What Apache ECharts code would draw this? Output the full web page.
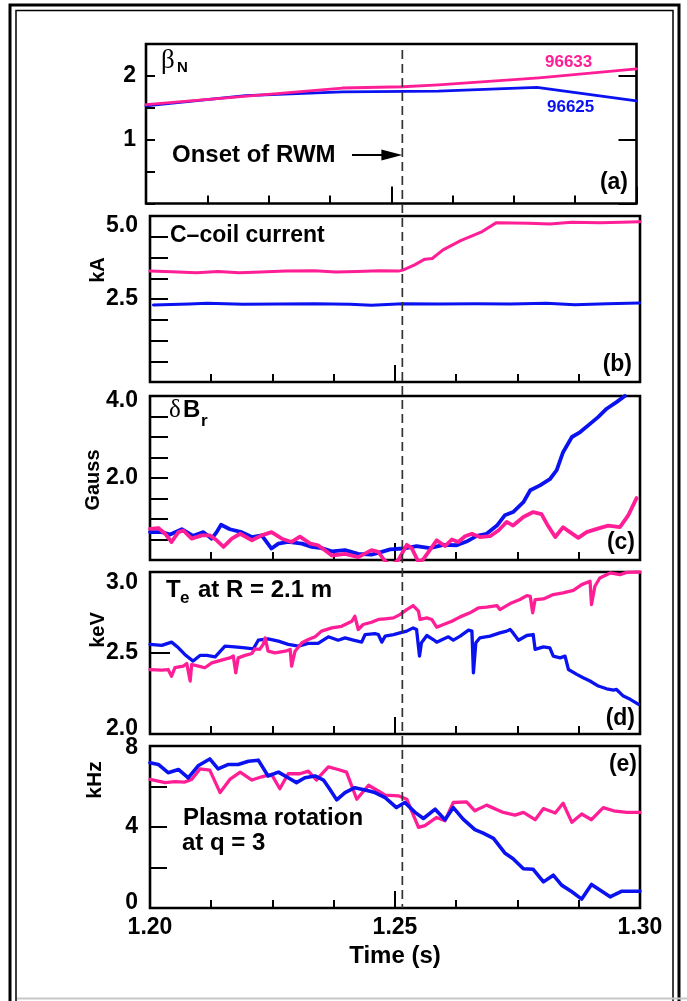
<!DOCTYPE html>
<html><head><meta charset="utf-8">
<script src="https://cdn.jsdelivr.net/npm/echarts@6/dist/echarts.min.js"></script>
<style>html,body{margin:0;padding:0;background:#fff;}#c{width:687px;height:1001px;}</style>
</head><body><div id="c"></div>
<script>
// ---------------- data ----------------
const onsetTime = 1.2515;
const xTickLabels = ['1.20', '1.25', '1.30'];

// (a) beta_N
const aPinkT = [1.2, 1.24, 1.2524, 1.2596, 1.2801, 1.3];
const aPinkV = [1.55, 1.81, 1.83, 1.86, 1.97, 2.11];
const aBlueT = [1.2, 1.2203, 1.24, 1.2596, 1.2797, 1.3];
const aBlueV = [1.53, 1.69, 1.75, 1.76, 1.82, 1.61];

// (b) C-coil current (kA)
const bPinkT = [1.2000,1.2044,1.2095,1.2139,1.2182,1.2226,1.2277,1.2335,1.2379,1.2423,1.2467,1.2507,1.2516,1.2539,1.2561,1.2576,1.2598,1.2634,1.2678,1.2707,1.2773,1.2816,1.2860,1.2918,1.2962,1.3000];
const bPinkV = [3.34,3.32,3.29,3.33,3.29,3.31,3.34,3.35,3.31,3.33,3.35,3.34,3.37,3.52,3.70,3.72,3.98,4.26,4.53,4.80,4.78,4.76,4.81,4.80,4.81,4.83];
const bBlueT = [1.2007,1.2080,1.2117,1.2190,1.2262,1.2335,1.2408,1.2452,1.2516,1.2590,1.2663,1.2736,1.2809,1.2867,1.2933,1.2999];
const bBlueV = [2.32,2.35,2.37,2.34,2.35,2.36,2.34,2.31,2.36,2.35,2.36,2.35,2.37,2.33,2.36,2.38];

// (c) delta B_r (Gauss)
const cBlueT = [1.2000,1.2024,1.2041,1.2065,1.2088,1.2109,1.2126,1.2136,1.2145,1.2163,1.2187,1.2208,1.2228,1.2248,1.2262,1.2282,1.2310,1.2330,1.2350,1.2371,1.2398,1.2425,1.2452,1.2473,1.2490,1.2517,1.2544,1.2571,1.2599,1.2626,1.2646,1.2667,1.2687,1.2708,1.2724,1.2741,1.2762,1.2776,1.2796,1.2816,1.2830,1.2843,1.2861,1.2878,1.2898,1.2915,1.2932,1.2952,1.2969];
const cBlueV = [0.68,0.68,0.62,0.75,0.59,0.68,0.52,0.68,0.86,0.75,0.68,0.56,0.60,0.28,0.40,0.44,0.40,0.32,0.29,0.21,0.24,0.15,0.13,0.20,0.26,0.28,0.34,0.29,0.37,0.36,0.45,0.59,0.64,0.84,1.09,1.17,1.41,1.70,1.82,1.97,2.19,2.63,3.00,3.12,3.32,3.49,3.69,3.85,4.00];
const cPinkT = [1.2000,1.2017,1.2031,1.2044,1.2058,1.2068,1.2085,1.2106,1.2122,1.2136,1.2150,1.2167,1.2184,1.2208,1.2228,1.2248,1.2269,1.2289,1.2306,1.2327,1.2343,1.2361,1.2371,1.2398,1.2425,1.2452,1.2466,1.2476,1.2490,1.2507,1.2524,1.2534,1.2548,1.2558,1.2585,1.2602,1.2616,1.2629,1.2643,1.2657,1.2673,1.2694,1.2711,1.2728,1.2741,1.2762,1.2782,1.2799,1.2810,1.2827,1.2843,1.2857,1.2874,1.2891,1.2912,1.2935,1.2959,1.2976,1.2993];
const cPinkV = [0.76,0.78,0.64,0.44,0.68,0.72,0.52,0.60,0.60,0.48,0.32,0.52,0.64,0.48,0.60,0.68,0.52,0.44,0.57,0.40,0.36,0.20,0.11,0.15,0.07,0.24,0.20,0.03,-0.15,0.00,0.37,0.29,-0.05,0.02,0.48,0.34,0.50,0.44,0.58,0.64,0.56,0.58,0.72,0.93,0.84,1.05,1.17,1.12,0.88,0.56,0.80,0.68,0.54,0.68,0.76,0.84,0.80,1.09,1.51];

// (d) Te at R = 2.1 m (keV)
const dBlueT = [1.2000,1.2024,1.2044,1.2058,1.2071,1.2088,1.2102,1.2116,1.2133,1.2153,1.2173,1.2194,1.2211,1.2221,1.2241,1.2262,1.2282,1.2303,1.2323,1.2343,1.2364,1.2384,1.2398,1.2415,1.2432,1.2439,1.2459,1.2466,1.2473,1.2480,1.2497,1.2510,1.2524,1.2537,1.2544,1.2550,1.2554,1.2565,1.2578,1.2585,1.2599,1.2609,1.2619,1.2633,1.2650,1.2657,1.2660,1.2665,1.2673,1.2694,1.2714,1.2728,1.2735,1.2741,1.2752,1.2769,1.2782,1.2786,1.2803,1.2816,1.2823,1.2837,1.2847,1.2854,1.2871,1.2884,1.2898,1.2915,1.2932,1.2946,1.2952,1.2966,1.2980,1.2997];
const dBlueV = [2.553,2.547,2.567,2.532,2.491,2.450,2.485,2.485,2.476,2.542,2.538,2.532,2.526,2.579,2.587,2.573,2.553,2.542,2.559,2.559,2.600,2.579,2.593,2.579,2.567,2.614,2.620,2.614,2.567,2.604,2.614,2.624,2.635,2.655,2.645,2.481,2.563,2.608,2.583,2.567,2.587,2.600,2.579,2.604,2.641,2.635,2.378,2.563,2.593,2.604,2.624,2.635,2.645,2.624,2.579,2.608,2.614,2.522,2.538,2.532,2.481,2.470,2.481,2.398,2.368,2.347,2.327,2.296,2.279,2.271,2.275,2.234,2.214,2.183];
const dPinkT = [1.2000,1.2024,1.2037,1.2044,1.2051,1.2068,1.2075,1.2082,1.2085,1.2099,1.2112,1.2126,1.2146,1.2163,1.2170,1.2175,1.2180,1.2194,1.2208,1.2214,1.2224,1.2231,1.2235,1.2241,1.2255,1.2276,1.2286,1.2289,1.2296,1.2310,1.2323,1.2337,1.2350,1.2371,1.2391,1.2412,1.2418,1.2425,1.2435,1.2452,1.2466,1.2480,1.2497,1.2510,1.2524,1.2537,1.2548,1.2551,1.2565,1.2575,1.2585,1.2599,1.2616,1.2633,1.2653,1.2670,1.2687,1.2708,1.2714,1.2735,1.2755,1.2769,1.2776,1.2781,1.2786,1.2803,1.2823,1.2843,1.2864,1.2881,1.2898,1.2901,1.2908,1.2918,1.2939,1.2959,1.2973,1.2990,1.3000];
const dPinkV = [2.398,2.394,2.398,2.357,2.409,2.419,2.435,2.327,2.429,2.419,2.409,2.439,2.456,2.470,2.481,2.378,2.470,2.485,2.497,2.526,2.522,2.553,2.593,2.511,2.501,2.511,2.522,2.419,2.511,2.563,2.583,2.600,2.635,2.655,2.665,2.696,2.727,2.645,2.676,2.690,2.707,2.711,2.717,2.737,2.768,2.793,2.758,2.707,2.717,2.707,2.659,2.676,2.696,2.723,2.748,2.778,2.783,2.793,2.768,2.805,2.830,2.854,2.850,2.748,2.830,2.834,2.861,2.871,2.887,2.922,2.943,2.799,2.912,2.963,2.994,2.984,2.998,3.0,3.0];

// (e) plasma rotation at q = 3 (kHz)
const eBlueT = [1.2000,1.2017,1.2037,1.2058,1.2078,1.2099,1.2122,1.2139,1.2160,1.2180,1.2201,1.2221,1.2241,1.2262,1.2282,1.2299,1.2316,1.2337,1.2354,1.2367,1.2381,1.2398,1.2418,1.2439,1.2459,1.2480,1.2503,1.2520,1.2541,1.2558,1.2582,1.2602,1.2619,1.2639,1.2663,1.2680,1.2701,1.2724,1.2741,1.2762,1.2782,1.2803,1.2823,1.2840,1.2861,1.2881,1.2901,1.2922,1.2939,1.2963,1.3000];
const eBlueV = [7.17,7.09,6.68,6.84,6.43,7.04,7.36,6.87,7.09,7.09,7.25,7.30,6.52,6.71,6.43,6.19,6.43,6.52,6.32,5.86,5.34,5.70,5.94,5.83,5.70,5.45,4.96,5.21,4.72,4.42,4.88,4.36,4.96,4.39,3.87,3.70,3.44,2.72,2.43,1.94,1.91,1.29,1.62,1.13,0.80,0.44,1.16,0.83,0.55,0.83,0.83];
const ePinkT = [1.2000,1.2031,1.2051,1.2071,1.2085,1.2102,1.2122,1.2143,1.2163,1.2184,1.2208,1.2228,1.2248,1.2265,1.2282,1.2306,1.2323,1.2340,1.2347,1.2364,1.2384,1.2401,1.2422,1.2446,1.2466,1.2480,1.2507,1.2524,1.2548,1.2561,1.2585,1.2602,1.2619,1.2646,1.2663,1.2687,1.2721,1.2745,1.2762,1.2786,1.2803,1.2827,1.2843,1.2861,1.2881,1.2901,1.2925,1.2946,1.2973,1.3000];
const ePinkV = [6.35,6.19,6.24,6.22,6.35,6.87,6.81,5.70,6.35,6.71,6.32,6.48,6.60,5.89,6.63,6.63,6.76,6.32,6.52,6.97,6.84,6.71,5.37,6.06,5.78,5.57,5.54,5.37,3.98,4.07,4.47,4.31,5.21,5.24,4.80,5.08,4.72,4.59,4.72,4.36,4.91,4.69,5.17,4.23,4.64,4.36,4.96,4.80,4.72,4.72];

// ---------------- chart ----------------
const FONT = '"Liberation Sans", Arial, Helvetica, sans-serif';
const SERIF = '"Liberation Serif", "DejaVu Serif", serif';
const PINK = '#ff1e96', BLUE = '#0a12f0';
const chart = echarts.init(document.getElementById('c'), null, {renderer: 'canvas', width: 687, height: 1001});

const grids = [
  {left: 146, top: 44, width: 490.5, height: 159.5},
  {left: 150, top: 216, width: 490, height: 166},
  {left: 150, top: 396, width: 490, height: 164},
  {left: 150, top: 572, width: 490, height: 162},
  {left: 150, top: 746, width: 490, height: 162}
].map(g => Object.assign({show: true, borderColor: '#000', borderWidth: 2.6, backgroundColor: 'transparent', containLabel: false}, g));

const lblBase = {fontFamily: FONT, fontWeight: 'bold', fontSize: 23, color: '#000'};
function shiftRich(px) {
  return {
    dn: Object.assign({}, lblBase, {padding: [2 * px, 0, 0, 0]}),
    up: Object.assign({}, lblBase, {padding: [0, 0, 2 * px, 0]})
  };
}
const near = (a, b) => Math.abs(a - b) < 1e-6;

const xAxes = grids.map((g, i) => ({
  gridIndex: i, type: 'value', min: 1.2, max: 1.3, interval: 0.05,
  axisLine: {show: false},
  axisTick: {show: true, inside: true, length: 17, lineStyle: {color: '#000', width: 2}},
  minorTick: {show: true, splitNumber: 4, length: 8, lineStyle: {color: '#000', width: 2}},
  splitLine: {show: false}, minorSplitLine: {show: false},
  axisLabel: i === 4 ? Object.assign({}, lblBase, {
    margin: 8, showMinLabel: true, showMaxLabel: true,
    formatter: v => {
      const k = Math.round((v - 1.2) / 0.05);
      return xTickLabels[k] !== undefined ? xTickLabels[k] : '';
    }
  }) : {show: false},
  name: i === 4 ? 'Time (s)' : '', nameLocation: 'middle', nameGap: 36,
  nameTextStyle: {fontFamily: FONT, fontWeight: 'bold', fontSize: 24, color: '#000'}
}));

function yAx(grid, min, max, interval, tickLen, fmt, rich, margin) {
  return {
    gridIndex: grid, type: 'value', min, max, interval,
    axisLine: {show: false},
    axisTick: {show: true, inside: true, length: tickLen, lineStyle: {color: '#000', width: 2}},
    splitLine: {show: false},
    axisLabel: fmt ? Object.assign({}, lblBase, {margin: margin || 12, showMinLabel: true, showMaxLabel: true, formatter: fmt, rich: rich || {}}) : {show: false}
  };
}
const yAxes = [
  yAx(0, 0, 2.5, 0.5, 9, v => (near(v, 1) ? '1' : near(v, 2) ? '2' : ''), null, 10),
  yAx(0, 0, 2.5, 1, 18, null),
  yAx(1, 0, 5, 0.625, 18, v => (near(v, 2.5) ? '2.5' : near(v, 5) ? '{dn|5.0}' : ''), shiftRich(10)),
  yAx(2, 0, 4, 0.5, 18, v => (near(v, 2) ? '2.0' : near(v, 4) ? '{dn|4.0}' : ''), shiftRich(5)),
  yAx(3, 2, 3, 0.5, 20, v => (near(v, 2.5) ? '2.5' : near(v, 3) ? '{dn|3.0}' : near(v, 2) ? '{up|2.0}' : ''), Object.assign(shiftRich(11), {up: Object.assign({}, lblBase, {padding: [0, 0, 10, 0]})})),
  yAx(4, 0, 8, 2, 17, v => (near(v, 4) ? '4' : near(v, 8) ? '{dn|8}' : near(v, 0) ? '{up|0}' : ''), Object.assign(shiftRich(2), {up: Object.assign({}, lblBase, {padding: [0, 0, 10, 0]})}))
];

const yIdx = [0, 2, 3, 4, 5];
function pairs(T, V) { return T.map((t, i) => [t, V[i]]); }
function line(panel, T, V, color, width, z) {
  return {
    type: 'line', xAxisIndex: panel, yAxisIndex: yIdx[panel], data: pairs(T, V),
    showSymbol: false, symbol: 'none', clip: true, z: z, animation: false,
    lineStyle: {color: color, width: width, join: 'round', cap: 'round'}, itemStyle: {color: color}
  };
}

const series = [
  line(0, aBlueT, aBlueV, BLUE, 2.8, 2),
  line(0, aPinkT, aPinkV, PINK, 2.8, 3),
  line(1, bBlueT, bBlueV, BLUE, 3.0, 2),
  line(1, bPinkT, bPinkV, PINK, 3.0, 3),
  line(2, cBlueT, cBlueV, BLUE, 3.8, 2),
  line(2, cPinkT, cPinkV, PINK, 3.8, 3),
  line(3, dBlueT, dBlueV, BLUE, 3.3, 2),
  line(3, dPinkT, dPinkV, PINK, 3.3, 3),
  line(4, ePinkT, ePinkV, PINK, 3.3, 2),
  line(4, eBlueT, eBlueV, BLUE, 3.6, 3)
];

chart.setOption({
  animation: false,
  backgroundColor: '#fff',
  textStyle: {fontFamily: FONT},
  grid: grids, xAxis: xAxes, yAxis: yAxes, series: series
});

// ---------------- annotations ----------------
const xOn = chart.convertToPixel({xAxisIndex: 4}, onsetTime);
function txt(x, y, text, size, opts) {
  return {type: 'text', x: x, y: y, z: 50, silent: true,
    style: Object.assign({text: text, fontSize: size, fontFamily: FONT, fontWeight: 'bold', fill: '#000', align: 'left', verticalAlign: 'middle'}, opts || {})};
}
function vtxt(x, y, text, size) {
  return {type: 'text', x: x, y: y, rotation: Math.PI / 2, z: 50, silent: true,
    style: {text: text, fontSize: size, fontFamily: FONT, fontWeight: 'bold', fill: '#000', align: 'center', verticalAlign: 'middle'}};
}
const graphic = [
  // frame
  {type: 'rect', z: 60, silent: true, shape: {x: 10, y: 5, width: 669, height: 1100}, style: {fill: 'none', stroke: '#000', lineWidth: 3}},
  {type: 'rect', z: 60, silent: true, shape: {x: 16, y: 10.5, width: 657, height: 1100}, style: {fill: 'none', stroke: '#000', lineWidth: 1.5}},
  {type: 'line', z: 61, silent: true, shape: {x1: 17, y1: 998.5, x2: 687, y2: 998.5}, style: {stroke: '#c8c8c8', lineWidth: 2}},
  // onset line
  {type: 'line', z: 40, silent: true, shape: {x1: xOn, y1: 50, x2: xOn, y2: 908}, style: {stroke: '#333', lineWidth: 1.7, lineDash: [9, 5]}},
  // arrow
  {type: 'line', z: 41, silent: true, shape: {x1: 352, y1: 155, x2: xOn - 16, y2: 155}, style: {stroke: '#000', lineWidth: 2}},
  {type: 'polygon', z: 41, silent: true, shape: {points: [[xOn, 155], [xOn - 21, 149.5], [xOn - 21, 160.5]]}, style: {fill: '#000'}},
  txt(172, 155, 'Onset of RWM', 24),
  // panel (a)
  txt(161, 61, 'β', 27, {fontFamily: SERIF, fontWeight: 'normal'}),
  txt(177, 68, 'N', 15),
  txt(545, 62, '96633', 17, {fill: PINK}),
  txt(547, 107, '96625', 17, {fill: BLUE}),
  txt(628, 183, '(a)', 23, {align: 'right'}),
  // panel (b)
  txt(170, 236, 'C\u2013coil current', 23),
  txt(632, 365, '(b)', 23, {align: 'right'}),
  vtxt(98, 270, 'kA', 20),
  // panel (c)
  txt(169, 410, 'δ', 25, {fontFamily: SERIF, fontWeight: 'normal'}),
  txt(183, 410, 'B', 24),
  txt(201, 421, 'r', 17),
  txt(635, 543, '(c)', 23, {align: 'right'}),
  vtxt(93, 480, 'Gauss', 20),
  // panel (d)
  txt(166, 590, 'T', 24),
  txt(180, 598, 'e', 17),
  txt(198, 590, 'at R = 2.1 m', 24),
  txt(635, 719, '(d)', 23, {align: 'right'}),
  vtxt(98, 630, 'keV', 20),
  // panel (e)
  txt(637, 765, '(e)', 23, {align: 'right'}),
  txt(183, 818, 'Plasma rotation', 24),
  txt(182, 843, 'at q = 3', 24),
  vtxt(95, 780, 'kHz', 21)
];
chart.setOption({graphic: graphic});
</script>
</body></html>
